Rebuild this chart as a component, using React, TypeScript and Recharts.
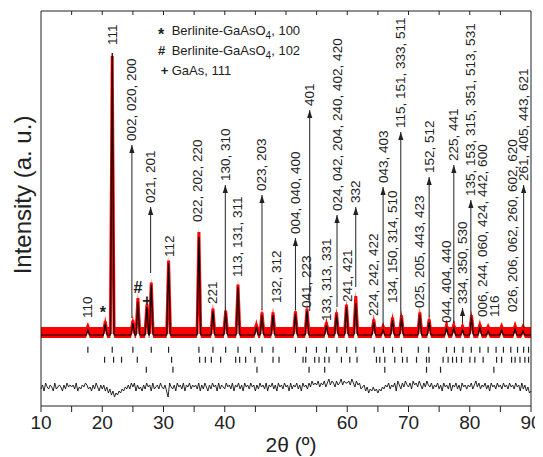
import React from 'react';
import {
  ComposedChart,
  Line,
  Area,
  Scatter,
  XAxis,
  YAxis,
  ReferenceLine,
  ReferenceDot,
} from 'recharts';

// peak positions (2theta) with calculated / observed peak intensities
const peakPos = [17.65, 20.49, 21.63, 25.0, 25.82, 27.29, 28.0, 30.83, 35.78, 38.07, 40.15, 42.16, 45.16, 46.08, 47.88, 51.54, 53.43, 56.6, 58.24, 59.87, 61.39, 64.33, 65.85, 67.39, 68.86, 71.85, 73.37, 76.21, 77.4, 78.82, 80.29, 81.65, 83.0, 85.2, 87.4, 88.7];
const peakCalc = [240, 480, 11320, 520, 1360, 1160, 2040, 2920, 3960, 1000, 920, 1960, 360, 840, 840, 880, 1000, 440, 840, 1160, 1320, 560, 240, 640, 720, 840, 560, 320, 320, 240, 720, 360, 200, 240, 280, 200];
const peakObs = [340, 580, 11200, 620, 1520, 1260, 2140, 3020, 4160, 1100, 1020, 2060, 460, 940, 940, 980, 1100, 540, 940, 1260, 1600, 660, 340, 740, 820, 940, 660, 420, 420, 340, 820, 460, 300, 340, 380, 300];
const calcBackground = 40;
const obsBackground = 140;

// Bragg position rows
const braggMain = [17.65, 21.63, 25.0, 28.0, 30.83, 35.78, 38.07, 40.15, 42.16, 44.2, 46.08, 47.88, 51.54, 53.33, 54.97, 56.6, 58.3, 59.9, 61.4, 64.4, 65.9, 67.4, 68.86, 71.6, 73.3, 76.2, 77.5, 78.9, 80.25, 81.65, 83.0, 84.3, 85.5, 86.7, 87.8, 88.8, 89.6];
const braggBerlinite = [20.38, 21.85, 23.15, 25.72, 31.32, 35.9, 36.83, 37.81, 39.33, 41.78, 42.43, 43.41, 44.93, 47.88, 48.86, 52.78, 53.22, 54.69, 55.39, 56.32, 57.03, 59.05, 60.41, 61.6, 64.77, 65.31, 66.13, 67.76, 69.02, 69.77, 71.31, 72.94, 73.37, 75.65, 76.47, 77.19, 77.84, 78.66, 80.02, 80.83, 82.19, 84.38, 85.2, 86.83, 87.4, 88.2, 89.0, 89.6];
const braggGaAs = [27.19, 31.54, 45.26, 53.76, 56.32, 66.13, 72.94, 75.23, 83.94];

// difference curve, one digit per 0.25 deg from 10 to 90 (5 = zero)
const diffDigits = [
  '46375465374565364756',
  '56473546576453647536',
  '46352413021324354647',
  '57364536475637456475',
  '46307546375647365746',
  '56473647536475637465',
  '47564736574637564756',
  '36475647365746375647',
  '56374657463756475867',
  '68576857968758679687',
  '78697586745635243534',
  '24354657465738647586',
  '57486758647586574657',
  '46375647365746375646',
  '57468574657463756475',
  '64756475647563746352',
  '3',
].join('');

// hkl labels: [2theta, text, intensity where text starts]
const hklPlain: [number, string, number][] = [
  [17.65, '110', 720],
  [21.7, '111', 11640],
  [31.0, '112', 3160],
  [35.63, '022, 202, 220', 4560],
  [38.07, '221', 1280],
  [42.1, '113, 131, 311', 2360],
  [48.4, '132, 312', 1320],
  [53.33, '041, 223', 1120],
  [56.6, '133, 313, 331', 600],
  [59.97, '241, 421', 1360],
  [64.33, '224, 242, 422', 800],
  [67.39, '134, 150, 314, 510', 1320],
  [71.73, '025, 205, 443, 423', 1120],
  [76.21, '044, 404, 440', 520],
  [82.09, '006, 244, 060, 424, 442, 600', 760],
  [84.1, '116', 760],
  [87.0, '026, 206, 062, 260, 602, 620', 960],
];

// hkl labels with arrows: [2theta, text, arrow from, arrow tip]
const hklArrow: [number, string, number, number][] = [
  [24.84, '002, 020, 200', 720, 7640],
  [27.9, '021, 201', 2520, 5160],
  [40.09, '130, 310', 920, 6040],
  [46.08, '023, 203', 1040, 5640],
  [51.54, '004, 040, 400', 1040, 3920],
  [53.87, '401', 1000, 9040],
  [58.33, '024, 042, 204, 240, 402, 420', 1160, 4840],
  [61.39, '332', 1960, 5160],
  [65.85, '043, 403', 360, 5960],
  [68.74, '115, 151, 333, 511', 760, 8160],
  [73.37, '152, 512', 760, 6360],
  [77.4, '225, 441', 520, 6840],
  [78.82, '334, 350, 530', 520, 1120],
  [80.18, '135, 153, 315, 351, 513, 531', 640, 5440],
  [88.8, '261, 405, 443, 621', 320, 6040],
];

// phase markers on small peaks
const phaseMarks: [number, string, number][] = [
  [20.1, '*', 960],
  [25.82, '#', 1960],
  [27.29, '+', 1440],
];

const bottomTicks = [10, 15, 20, 25, 30, 35, 40, 45, 55, 60, 65, 70, 75, 80, 85, 90];
const topTicks = [15, 20, 25, 30, 35, 40, 45, 50, 55, 60, 65, 70, 75, 80, 85];

const ROW_MAIN = -550;
const ROW_BERL = -950;
const ROW_GAAS = -1350;
const DIFF_LEVEL = -2040;
const FOOT = 0.3;
const BAND = 220;

const FONT = '"Liberation Sans", Arial, Helvetica, sans-serif';
const INK = '#222';
const RED = '#ff0000';

const profile = [
  { tt: 10, calc: calcBackground, obs: obsBackground },
  ...peakPos.flatMap((p, i) => [
    { tt: p - FOOT, calc: calcBackground, obs: obsBackground },
    { tt: p, calc: peakCalc[i], obs: peakObs[i] },
    { tt: p + FOOT, calc: calcBackground, obs: obsBackground },
  ]),
  { tt: 90, calc: calcBackground, obs: obsBackground },
]
  .sort((a, b) => a.tt - b.tt)
  .map((d) => ({ ...d, band: [d.obs - BAND, d.obs + BAND] }));

const diffData = diffDigits.split('').map((c, i) => ({
  tt: 10 + i * 0.25,
  diff: DIFF_LEVEL + (Number(c) - 5) * 80,
}));

const rowData = (list: number[], lvl: number) => list.map((tt) => ({ tt, lvl }));

const tickMark = (p: any) => (
  <line x1={p.cx} x2={p.cx} y1={p.cy - 3} y2={p.cy + 3} stroke={INK} strokeWidth={1.2} />
);

const vText = (x: number, y: number, label: string) => (
  <text
    x={x}
    y={y}
    transform={`rotate(-90 ${x} ${y})`}
    fontSize={13.5}
    fontFamily={FONT}
    fill={INK}
    dominantBaseline="central"
  >
    {label}
  </text>
);

export default function App() {
  return (
    <div style={{ position: 'relative', width: 535, height: 449 }}>
      <ComposedChart
        width={535}
        height={449}
        data={profile}
        margin={{ top: 3, right: 11, bottom: 21, left: 32 }}
      >
        <XAxis
          dataKey="tt"
          type="number"
          domain={[10, 90]}
          ticks={bottomTicks}
          interval={0}
          height={30}
          tickSize={6}
          tickMargin={4}
          stroke={INK}
          tickFormatter={(v: number) => (v % 10 === 0 ? String(v) : '')}
          tick={{ fontSize: 19, fill: INK, fontFamily: FONT }}
        />
        <XAxis
          xAxisId="top"
          orientation="top"
          dataKey="tt"
          type="number"
          domain={[10, 90]}
          ticks={topTicks}
          interval={0}
          height={1}
          mirror
          tickSize={4}
          stroke={INK}
          tickFormatter={() => ''}
        />
        <YAxis type="number" domain={[-2800, 13000]} width={1} tick={false} stroke={INK} />
        <YAxis yAxisId="r" orientation="right" type="number" domain={[-2800, 13000]} width={1} tick={false} stroke={INK} />

        <Area dataKey="band" stroke="none" fill={RED} fillOpacity={1} isAnimationActive={false} />
        <Line dataKey="obs" stroke={RED} strokeWidth={3} dot={false} activeDot={false} isAnimationActive={false} />
        <Line dataKey="calc" stroke="#000" strokeWidth={1.2} dot={false} activeDot={false} isAnimationActive={false} />
        <Line data={diffData} dataKey="diff" stroke="#111" strokeWidth={0.9} dot={false} activeDot={false} isAnimationActive={false} />

        <Scatter data={rowData(braggMain, ROW_MAIN)} dataKey="lvl" shape={tickMark} isAnimationActive={false} />
        <Scatter data={rowData(braggBerlinite, ROW_BERL)} dataKey="lvl" shape={tickMark} isAnimationActive={false} />
        <Scatter data={rowData(braggGaAs, ROW_GAAS)} dataKey="lvl" shape={tickMark} isAnimationActive={false} />

        {hklArrow.map(([tt, label, from, to]) => (
          <ReferenceLine
            key={'s' + label}
            segment={[{ x: tt, y: from }, { x: tt, y: to }]}
            stroke={INK}
            strokeWidth={1}
          />
        ))}
        {hklArrow.map(([tt, label, , to]) => (
          <ReferenceDot
            key={'a' + label}
            x={tt}
            y={to}
            r={0}
            shape={(p: any) => (
              <g>
                <polygon
                  points={`${p.cx},${p.cy} ${p.cx - 2.6},${p.cy + 8} ${p.cx + 2.6},${p.cy + 8}`}
                  fill={INK}
                />
                {vText(p.cx, p.cy - 4, label)}
              </g>
            )}
          />
        ))}
        {hklPlain.map(([tt, label, start]) => (
          <ReferenceDot
            key={'p' + label}
            x={tt}
            y={start}
            r={0}
            shape={(p: any) => vText(p.cx, p.cy, label)}
          />
        ))}
        {phaseMarks.map(([tt, sym, lvl]) => (
          <ReferenceDot
            key={'m' + sym}
            x={tt}
            y={lvl}
            r={0}
            shape={(p: any) => (
              <text
                x={p.cx}
                y={p.cy}
                textAnchor="middle"
                dominantBaseline="central"
                fontSize={16}
                fontWeight="bold"
                fontFamily={FONT}
                fill={INK}
              >
                {sym}
              </text>
            )}
          />
        ))}
      </ComposedChart>

      <svg
        width={535}
        height={449}
        style={{ position: 'absolute', left: 0, top: 0, pointerEvents: 'none' }}
      >
        <g fontFamily={FONT} fill={INK}>
          <text x={153} y={32} fontSize={16} fontWeight="bold" textAnchor="middle">*</text>
          <text x={153.5} y={47} fontSize={13} fontWeight="bold" textAnchor="middle">#</text>
          <text x={156.5} y={67} fontSize={13} fontWeight="bold" textAnchor="middle">+</text>
          <text x={163.7} y={27} fontSize={13}>
            Berlinite-GaAsO<tspan dy={4} fontSize={10}>4</tspan><tspan dy={-4}>, 100</tspan>
          </text>
          <text x={163.7} y={47} fontSize={13}>
            Berlinite-GaAsO<tspan dy={4} fontSize={10}>4</tspan><tspan dy={-4}>, 102</tspan>
          </text>
          <text x={163.7} y={67} fontSize={13}>GaAs, 111</text>
          <text
            x={14}
            y={187}
            fontSize={24}
            textAnchor="middle"
            dominantBaseline="central"
            transform="rotate(-90 14 187)"
          >
            Intensity (a. u.)
          </text>
          <text x={283} y={444} fontSize={21} textAnchor="middle">2θ (º)</text>
        </g>
      </svg>
    </div>
  );
}
